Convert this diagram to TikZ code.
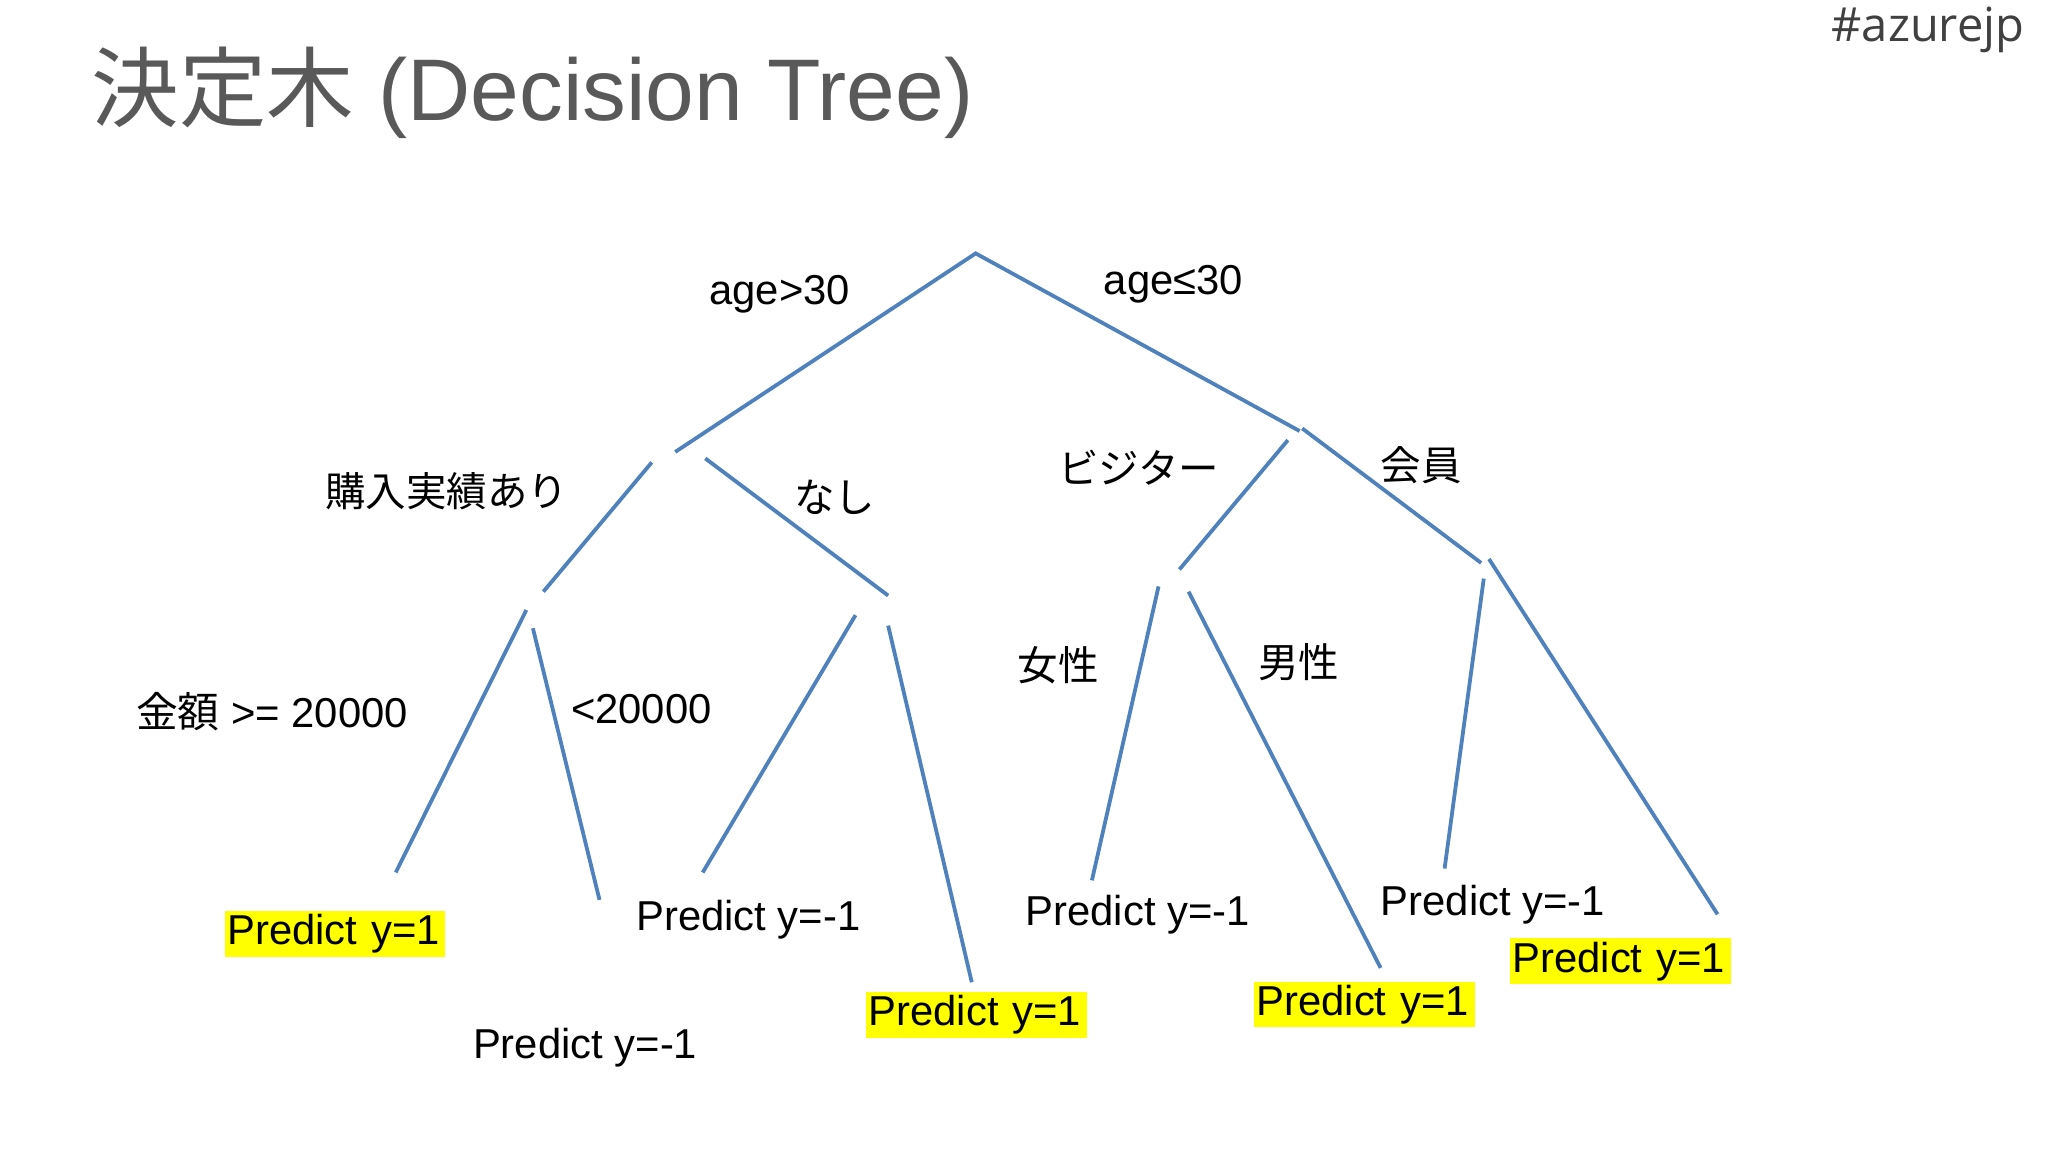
\documentclass[tikz,border=0pt]{standalone}
\usepackage{fontspec}
\setmainfont{Liberation Sans}
\newfontfamily\jp{Noto Sans CJK JP}
\newfontfamily\tagfont{Open Sans}
\definecolor{edgeblue}{HTML}{4F81BD}
\definecolor{hl}{HTML}{FFFF00}
\definecolor{titlegray}{HTML}{595959}
\definecolor{taggray}{HTML}{404040}
\begin{document}
\begin{tikzpicture}[x=1pt,y=-1pt,
  edge/.style={draw=edgeblue, line width=2.9pt},
  lbl/.style={font=\fontsize{32}{36}\selectfont, inner sep=0pt, anchor=west},
  jlbl/.style={font=\jp\fontsize{31}{36}\selectfont, inner sep=0pt, anchor=west},
  predhl/.style={font=\fontsize{32}{36}\selectfont, fill=hl, inner xsep=2pt, inner ysep=0pt,
    text width=165pt, align=left, minimum height=35pt, anchor=center}
]
\useasboundingbox[fill=white] (0,0) rectangle (1568,882);

% title and tag
\node[anchor=base west, inner sep=0pt, text=titlegray, font=\fontsize{67}{80}\selectfont] (title) at (70,92) {{\jp 決定木} (Decision Tree)};
\node[anchor=north east, inner sep=0pt, text=taggray, font=\tagfont\fontsize{36}{40}\selectfont] (tag) at (1550,5) {\#azurejp};

% coordinates of the branch segments
\coordinate (r) at (747,194);
\coordinate (a1) at (517,346);
\coordinate (b1) at (995,330);
\coordinate (c1s) at (499,354); \coordinate (c1e) at (416,453);
\coordinate (c2s) at (540,351); \coordinate (c2e) at (680,456);
\coordinate (d1s) at (986,337); \coordinate (d1e) at (903,436);
\coordinate (d2s) at (997,328); \coordinate (d2e) at (1134,431);
\coordinate (e1s) at (403,467); \coordinate (e1e) at (303,668);
\coordinate (e2s) at (408,481); \coordinate (e2e) at (459,689);
\coordinate (f1s) at (655,471); \coordinate (f1e) at (538,668);
\coordinate (f2s) at (680,479); \coordinate (f2e) at (744,752);
\coordinate (g1s) at (887,449); \coordinate (g1e) at (836,674);
\coordinate (g2s) at (910,453); \coordinate (g2e) at (1057,741);
\coordinate (h1s) at (1136,443); \coordinate (h1e) at (1106,665);
\coordinate (h2s) at (1140,428); \coordinate (h2e) at (1315,700);

\draw[edge] (a1) -- (r) -- (b1);
\draw[edge] (c1s) -- (c1e);
\draw[edge] (c2s) -- (c2e);
\draw[edge] (d1s) -- (d1e);
\draw[edge] (d2s) -- (d2e);
\draw[edge] (e1s) -- (e1e);
\draw[edge] (e2s) -- (e2e);
\draw[edge] (f1s) -- (f1e);
\draw[edge] (f2s) -- (f2e);
\draw[edge] (g1s) -- (g1e);
\draw[edge] (g2s) -- (g2e);
\draw[edge] (h1s) -- (h1e);
\draw[edge] (h2s) -- (h2e);

% branch labels
\node[lbl] (ageg) at (543,225) {age>30};
\node[lbl] (agel) at (845,218) {age≤30};
\node[jlbl] (kounyu) at (249,376) {購入実績あり};
\node[jlbl] (nashi) at (608,381) {なし};
\node[jlbl] (visitor) at (810,358) {ビジター};
\node[jlbl] (kaiin) at (1057,356) {会員};
\node[lbl] (kingaku) at (104,545) {{\jp 金額} >= 20000};
\node[lbl] (lt) at (437,543) {<20000};
\node[jlbl] (josei) at (779,509) {女性};
\node[jlbl] (dansei) at (963,507) {男性};

% predictions
\node[predhl] (p1) at (256.5,715) {Predict y=1};
\node[lbl] (p2) at (362,802) {Predict y=-1};
\node[lbl] (p3) at (487,704) {Predict y=-1};
\node[predhl] (p4) at (747.5,777) {Predict y=1};
\node[lbl] (p5) at (785,700) {Predict y=-1};
\node[predhl] (p6) at (1044.5,769) {Predict y=1};
\node[lbl] (p7) at (1057,693) {Predict y=-1};
\node[predhl] (p8) at (1240.5,736) {Predict y=1};
\end{tikzpicture}
\end{document}
